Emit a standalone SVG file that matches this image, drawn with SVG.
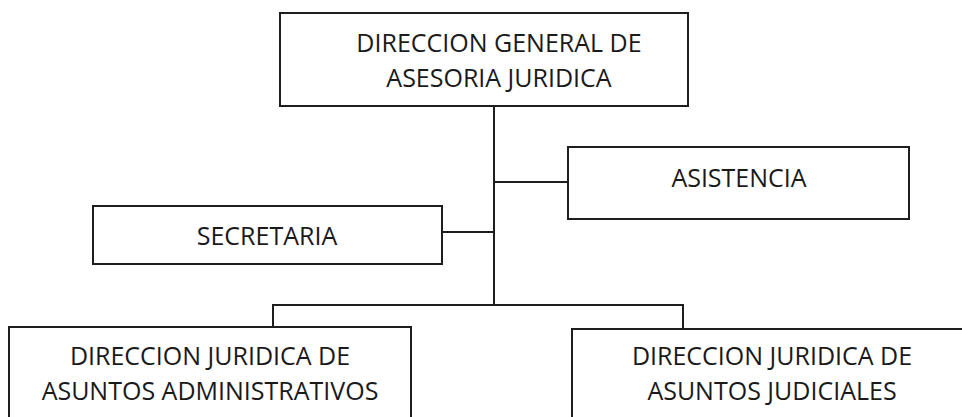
<svg xmlns="http://www.w3.org/2000/svg" width="962" height="417" viewBox="0 0 962 417">
<style>
.box{fill:#fff;stroke:#1e1e1e;stroke-width:2}
.ln{fill:none;stroke:#1e1e1e;stroke-width:2}
text{font-family:"Open Sans","Noto Sans","Liberation Sans",sans-serif;font-size:25px;fill:#1a1a1a;text-anchor:middle}
</style>
<rect width="962" height="417" fill="#fff"/>
<g id="connectors">
<path class="ln" d="M494 106 V305"/>
<path class="ln" d="M494 182 H568"/>
<path class="ln" d="M442 232 H494"/>
<path class="ln" d="M273 327 V305 H683 V329"/>
</g>
<g id="n-direccion-general">
<rect class="box" x="280" y="13" width="408" height="93"/>
<text x="499" y="52">DIRECCION GENERAL DE</text>
<text x="499" y="87">ASESORIA JURIDICA</text>
</g>
<g id="n-asistencia">
<rect class="box" x="568" y="147" width="341" height="72"/>
<text x="739" y="187">ASISTENCIA</text>
</g>
<g id="n-secretaria">
<rect class="box" x="93" y="206" width="349" height="58"/>
<text x="267" y="245">SECRETARIA</text>
</g>
<g id="n-asuntos-administrativos">
<rect class="box" x="9" y="327" width="402" height="100"/>
<text x="210" y="365">DIRECCION JURIDICA DE</text>
<text x="210" y="400">ASUNTOS ADMINISTRATIVOS</text>
</g>
<g id="n-asuntos-judiciales">
<rect class="box" x="572" y="329" width="403" height="100"/>
<text x="772" y="365">DIRECCION JURIDICA DE</text>
<text x="772" y="400">ASUNTOS JUDICIALES</text>
</g>
</svg>
